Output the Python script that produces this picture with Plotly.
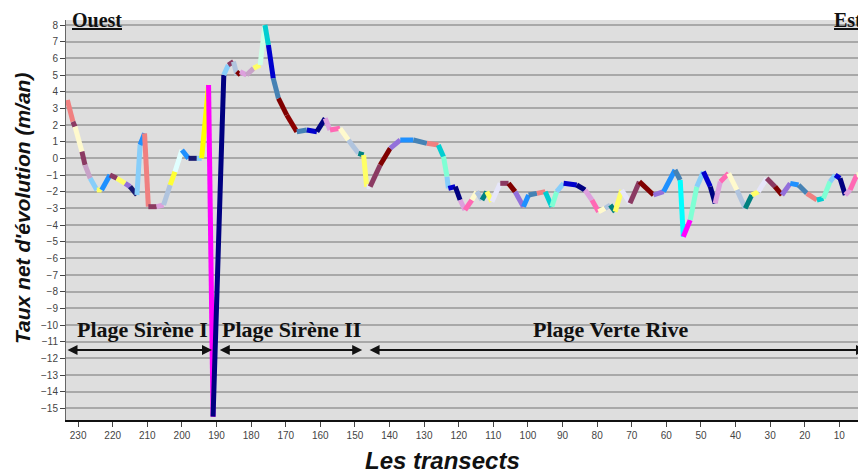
import plotly.graph_objects as go

# transect numbers (west -> east) and net rate of change (m/an)
transects = [233.1, 231.5, 230.9, 228.9, 228.0, 226.5, 224.6, 223.2, 220.8, 218.8,
             216.4, 215.0, 213.0, 212.1, 210.8, 209.7, 207.3, 205.3, 203.4, 202.0,
             200.0, 198.1, 195.7, 194.3, 192.3, 191.0, 187.9, 186.6, 185.1, 184.1,
             183.2, 181.3, 179.3, 177.4, 176.0, 175.0, 173.6, 172.1, 169.7, 166.8,
             163.9, 161.0, 158.6, 157.2, 154.3, 151.9, 149.0, 147.5, 146.6, 145.6,
             142.7, 139.8, 136.9, 133.1, 129.2, 125.9, 124.4, 123.4, 123.0, 121.0,
             119.6, 118.2, 116.2, 114.8, 113.3, 111.9, 110.4, 108.0, 105.6, 103.7,
             101.3, 99.8, 97.4, 95.0, 93.1, 91.7, 89.7, 85.9, 83.5, 81.5,
             79.6, 77.7, 76.2, 74.8, 72.9, 70.5, 67.8, 63.7, 60.8, 57.5,
             56.0, 55.1, 53.1, 51.2, 49.3, 47.3, 45.9, 44.4, 42.0, 39.6,
             37.2, 35.3, 33.4, 31.0, 28.6, 26.6, 24.2, 21.8, 19.4, 16.5,
             14.6, 12.7, 11.2, 9.8, 8.3, 6.9, 5.0, 2.5]
taux = [3.5, 2.2, 1.9, 0.4, -0.4, -1.2, -1.9, -1.9, -1.0, -1.2,
        -1.5, -1.7, -2.2, 0.8, 1.5, -2.9, -2.9, -2.8, -1.6, -0.8,
        0.5, 0.0, 0.0, 0.0, 4.4, -15.5, 5.0, 5.6, 5.8, 5.0,
        5.2, 5.0, 5.4, 5.6, 8.0, 6.8, 4.8, 3.6, 2.6, 1.6,
        1.7, 1.6, 2.4, 1.7, 1.8, 1.1, 0.3, 0.2, -1.7, -1.7,
        -0.4, 0.6, 1.1, 1.1, 0.9, 0.8, 0.1, -1.1, -1.8, -1.7,
        -2.5, -3.1, -2.5, -2.0, -2.5, -2.0, -2.6, -1.5, -1.5, -2.0,
        -2.9, -2.2, -2.1, -2.0, -2.9, -2.0, -1.5, -1.6, -1.9, -2.5,
        -3.2, -3.0, -2.8, -3.2, -1.9, -2.7, -1.4, -2.2, -2.0, -0.7,
        -1.3, -4.7, -3.7, -1.7, -0.8, -1.7, -2.7, -1.4, -0.9, -1.9,
        -3.0, -2.2, -2.0, -1.2, -1.7, -2.2, -1.5, -1.6, -2.1, -2.5,
        -2.4, -1.4, -1.0, -1.2, -2.2, -1.9, -1.0, -0.9]

# beach sectors: label, label position, arrow start/end (transects)
sectors = ["Plage Sirène I", "Plage Sirène II", "Plage Verte Rive"]
sector_label_x = [211.5, 168.4, 76.2]
sector_start = [233.5, 189.5, 146.2]
sector_end = [191.3, 147.9, 2.3]

palette = ["#f08080", "#8b3a62", "#fffacd", "#87cefa", "#1e90ff", "#ffff66", "#dda0dd",
           "#00ced1", "#800000", "#b0c4de", "#0000cd", "#4682b4", "#e6e6fa", "#ff69b4",
           "#7fffd4", "#9370db", "#008080", "#000080"]
seg_colors = {0: "#f08080", 1: "#8b3a62", 2: "#fffacd", 3: "#8b3a62", 4: "#c8a2c8",
              5: "#87cefa", 6: "#ffff66", 7: "#1e90ff", 8: "#8b3a62", 9: "#ffff66",
              10: "#9370db", 11: "#191970", 12: "#87cefa", 13: "#1e90ff", 14: "#f08080",
              15: "#8b3a62", 16: "#dda0dd", 17: "#b0c4de", 18: "#ffff33", 19: "#e0ffff",
              20: "#1e90ff", 21: "#191970", 22: "#87cefa", 23: "#ffff00", 24: "#ff00ff",
              25: "#000080", 26: "#87cefa", 27: "#8b3a62", 28: "#b0c4de", 29: "#800000",
              30: "#dda0dd", 31: "#c8a2c8", 32: "#ffff66", 33: "#ccffe6", 34: "#00ced1",
              35: "#0000cd", 36: "#4682b4", 37: "#800000", 38: "#8b0000", 39: "#4682b4",
              90: "#00ffff", 91: "#ff00ff"}

fig = go.Figure()
for i in range(len(transects) - 1):
    col = seg_colors.get(i, palette[(i * 7) % len(palette)])
    fig.add_trace(go.Scatter(x=transects[i:i + 2], y=taux[i:i + 2], mode="lines",
                             line=dict(color=col, width=5), showlegend=False,
                             hoverinfo="skip"))

serif = "Liberation Serif"
for lab, lx, s, e in zip(sectors, sector_label_x, sector_start, sector_end):
    fig.add_annotation(x=lx, y=-10.25, text="<b>" + lab + "</b>", showarrow=False,
                       font=dict(family=serif, size=22, color="#111111"))
    fig.add_annotation(x=e, y=-11.5, ax=s, ay=-11.5, xref="x", yref="y", axref="x", ayref="y",
                       text="", showarrow=True, arrowhead=2, startarrowhead=2,
                       arrowside="end+start", arrowsize=1, arrowwidth=2, arrowcolor="#111111")

fig.add_annotation(x=0.005, y=1.0, xref="paper", yref="paper", xanchor="left", yanchor="middle",
                   text="<b><u>Ouest</u></b>", showarrow=False,
                   font=dict(family=serif, size=20, color="#111111"))
fig.add_annotation(x=0.998, y=1.0, xref="paper", yref="paper", xanchor="right", yanchor="middle",
                   text="<b><u>Est</u></b>", showarrow=False,
                   font=dict(family=serif, size=20, color="#111111"))

# axis titles
fig.add_annotation(x=-0.055, y=0.5275, xref="paper", yref="paper", textangle=-90,
                   xanchor="center", yanchor="middle",
                   text="<b><i>Taux net d'évolution (m/an)</i></b>", showarrow=False,
                   font=dict(family="Liberation Sans", size=21, color="#111111"))
fig.add_annotation(x=0.47, y=-0.1, xref="paper", yref="paper",
                   xanchor="center", yanchor="middle",
                   text="<b><i>Les transects</i></b>", showarrow=False,
                   font=dict(family="Liberation Sans", size=24, color="#111111"))

# page body has an 8px margin, so the figure margins are reduced by 8px
fig.update_layout(
    width=866, height=473,
    margin=dict(l=58, r=8, t=12, b=61),
    paper_bgcolor="white", plot_bgcolor="#dedede",
    font=dict(family="Liberation Sans", size=10, color="#444444"),
    xaxis=dict(range=[233.5, 2.3], tickvals=list(range(230, 9, -10)), showgrid=False,
               zeroline=False, showline=True, linecolor="#111111", linewidth=1.5,
               ticks="outside", ticklen=5, tickcolor="#444444", automargin=False),
    yaxis=dict(range=[-15.7, 8.3], tickvals=list(range(-15, 9)), showgrid=True,
               gridcolor="#a8a8a8", gridwidth=1.5, zeroline=False, showline=True,
               linecolor="#666666", linewidth=1, ticks="outside", ticklen=5,
               tickcolor="#444444", automargin=False),
)

fig.write_html("out.html")
